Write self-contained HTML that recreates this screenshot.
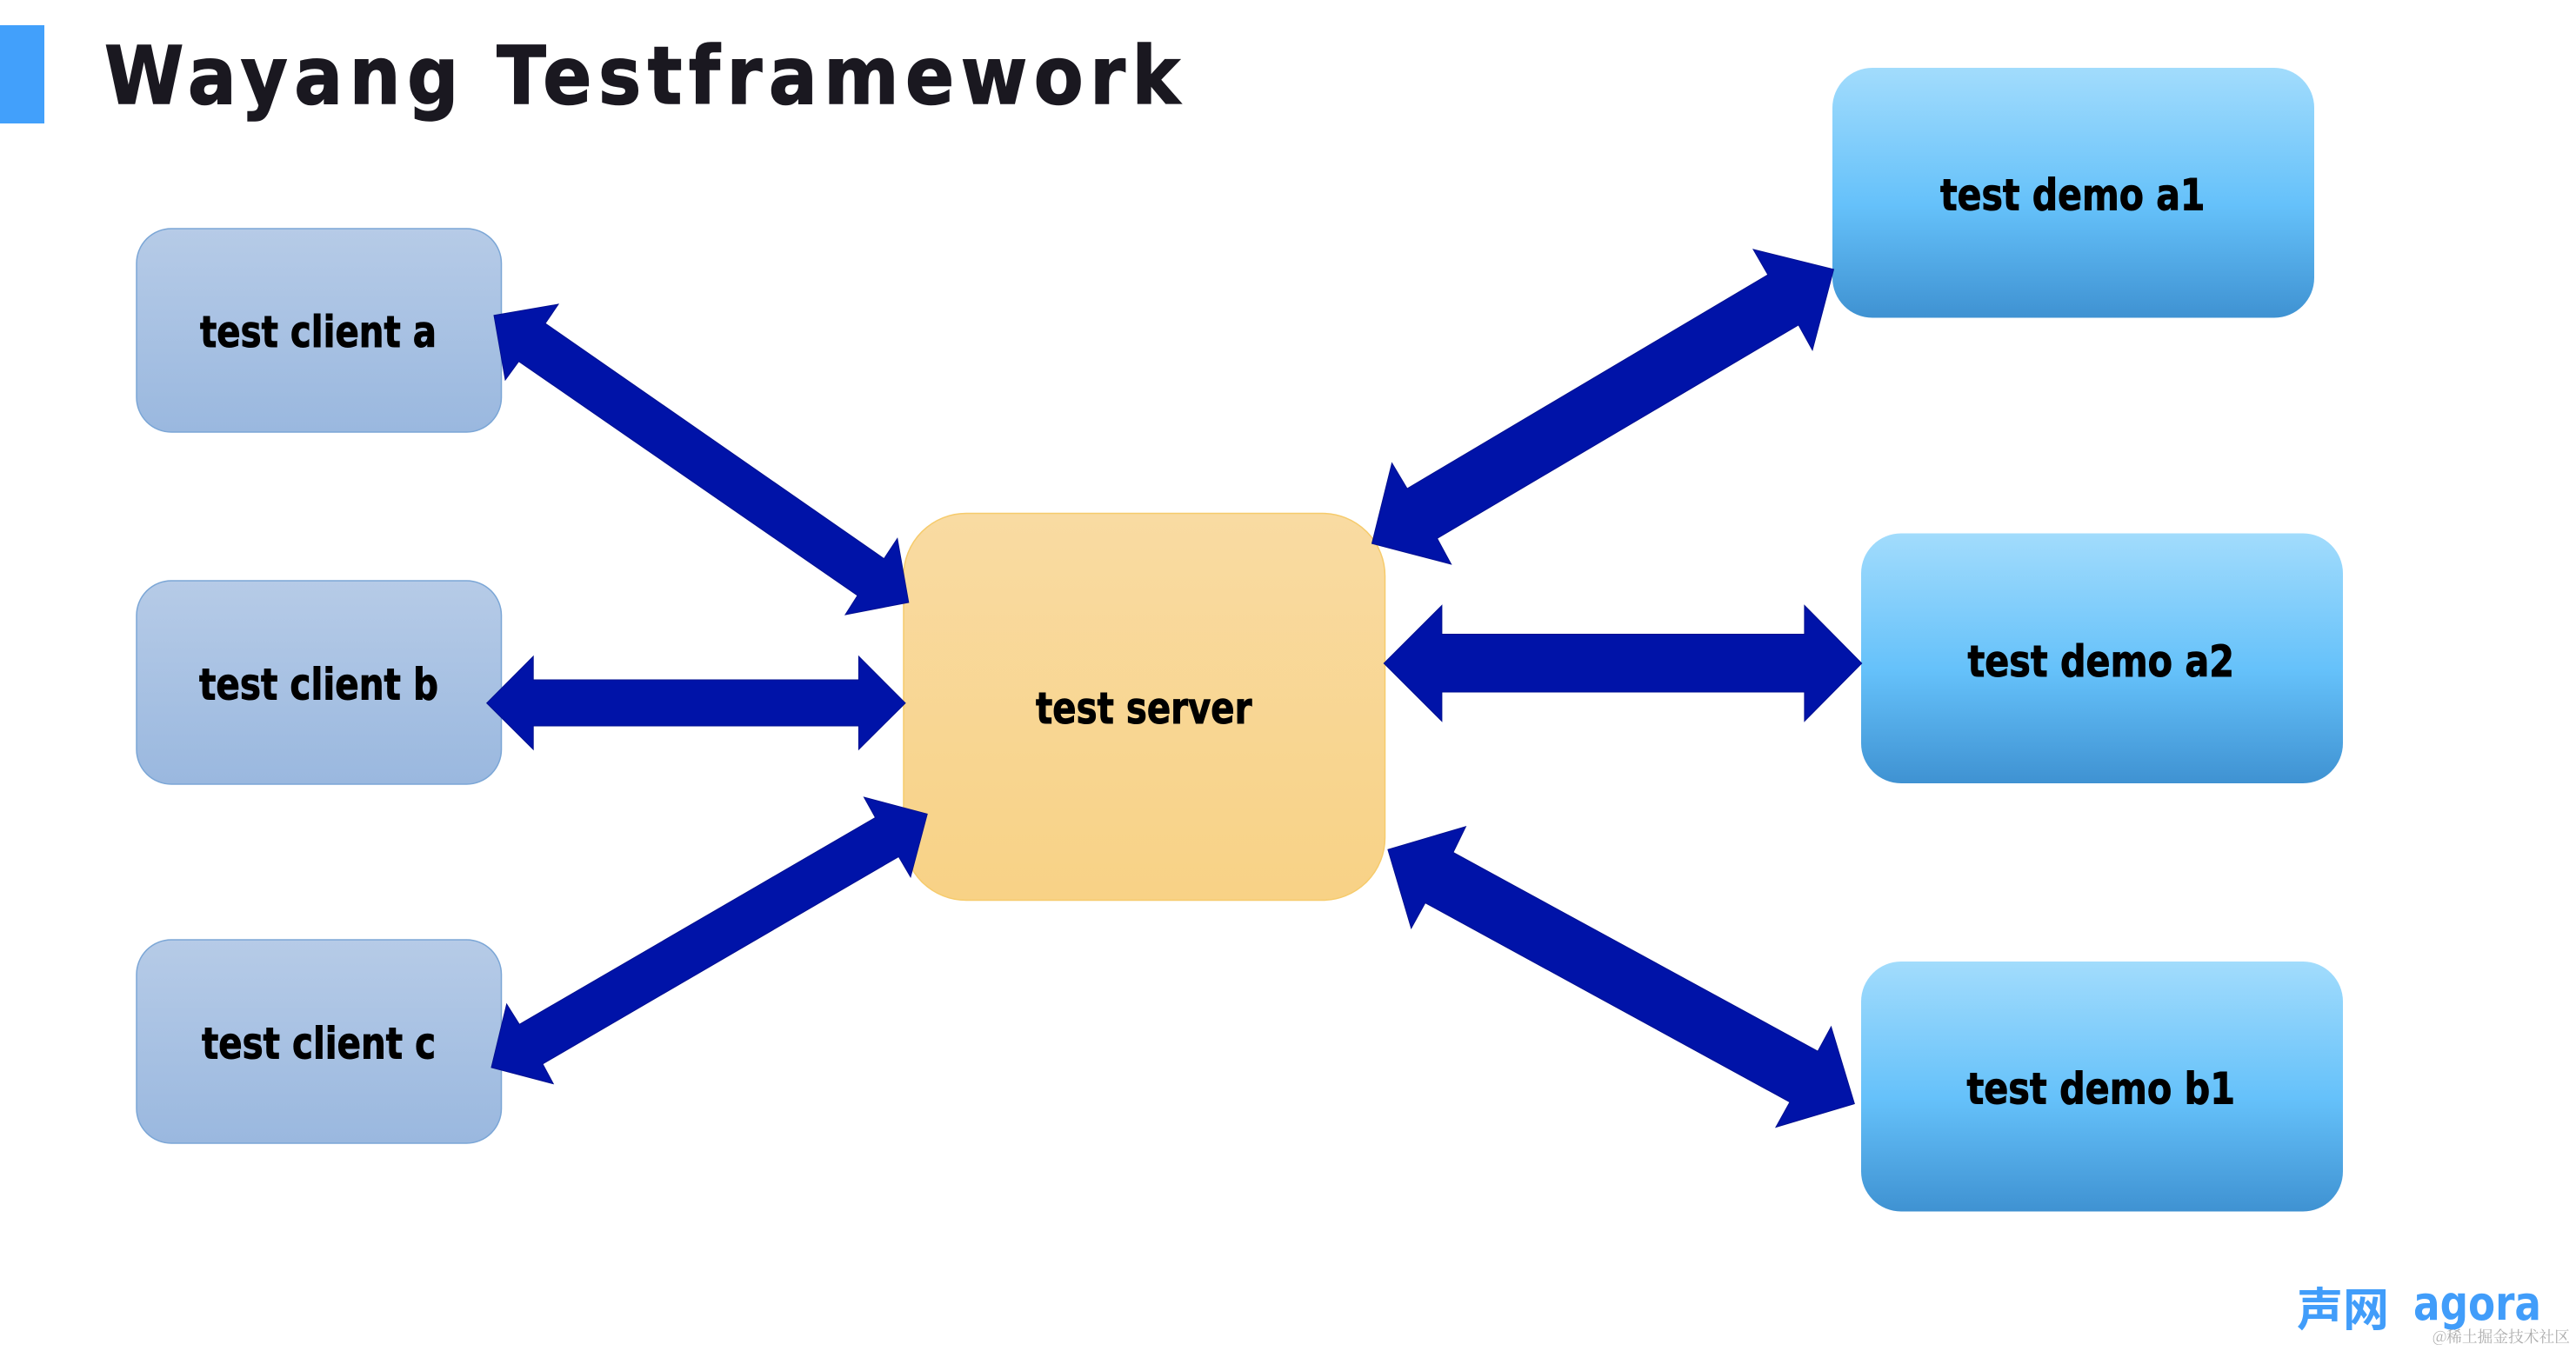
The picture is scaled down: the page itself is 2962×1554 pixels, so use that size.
<!DOCTYPE html>
<html lang="en">
<head>
<meta charset="utf-8">
<title>Wayang Testframework</title>
<style>
html,body{margin:0;padding:0;background:#fff;width:2962px;height:1554px;overflow:hidden}
svg{display:block}
text{font-family:"DejaVu Sans","Liberation Sans","Noto Sans CJK SC",sans-serif}
.l{font-size:50px;font-weight:700;fill:#000;stroke:#000;stroke-width:1px}
.a{fill:#0013a8;stroke:#000f90;stroke-width:1}
</style>
</head>
<body>
<svg width="2962" height="1554" viewBox="0 0 2962 1554" xmlns="http://www.w3.org/2000/svg">
<defs>
<linearGradient id="gc" x1="0" y1="0" x2="0" y2="1"><stop offset="0" stop-color="#b6cbe7"/><stop offset="1" stop-color="#9ab8df"/></linearGradient>
<linearGradient id="gs" x1="0" y1="0" x2="0" y2="1"><stop offset="0" stop-color="#f9dba2"/><stop offset="1" stop-color="#f8d286"/></linearGradient>
<linearGradient id="gd" x1="0" y1="0" x2="0" y2="1"><stop offset="0" stop-color="#a2dcfc"/><stop offset=".55" stop-color="#65c1fa"/><stop offset="1" stop-color="#3f92d2"/></linearGradient>
</defs>
<rect width="2962" height="1554" fill="#fff"/>

<rect x="0" y="29" width="51" height="113" fill="#42a0fb"/>
<g transform="translate(120 119) scale(.9 1)">
<text x="0" y="0" font-size="92" font-weight="700" fill="#1a1820" stroke="#1a1820" stroke-width="1.500" textLength="1374" lengthAdjust="spacing">Wayang Testframework</text>
</g>

<rect x="157" y="263" width="419.5" height="234" rx="40" fill="url(#gc)" stroke="#7ba6d6" stroke-width="1.5"/>
<rect x="157" y="668" width="419.5" height="234" rx="40" fill="url(#gc)" stroke="#7ba6d6" stroke-width="1.5"/>
<rect x="157" y="1081" width="419.5" height="234" rx="40" fill="url(#gc)" stroke="#7ba6d6" stroke-width="1.5"/>

<rect x="1039" y="590.500" width="553.500" height="445" rx="72" fill="url(#gs)" stroke="#f6cb6c" stroke-width="1.500"/>

<rect x="2107" y="78" width="554" height="287.500" rx="46" fill="url(#gd)"/>
<rect x="2140" y="613.500" width="554" height="287.500" rx="46" fill="url(#gd)"/>
<rect x="2140" y="1106" width="554" height="287.500" rx="46" fill="url(#gd)"/>

<polygon class="a" points="568,362.700 642,350 627,372 1016.500,642.600 1031.800,619.400 1044.800,693 972,707 986,685 596.500,415.700 581,437"/>
<polygon class="a" points="559.700,808.700 613.200,755 613.200,782 987.400,782 987.400,755 1041,808.700 987.400,862 987.400,835 613.200,835 613.200,862"/>
<polygon class="a" points="1066.200,936.300 993.500,917 1006.500,940.400 597.200,1178.300 582.600,1155 565,1227.900 636.200,1246.600 624,1223.800 1033.300,985.400 1047,1008.700"/>
<polygon class="a" points="2108.500,309.800 2016,286.900 2032.800,316 1618,562 1600.500,532.700 1577.500,625.200 1668.600,649 1652.500,619.300 2068,373.800 2084,402.700"/>
<polygon class="a" points="1591.300,763 1657.900,696.500 1657.900,729.500 2074.900,729.500 2074.900,696.500 2140.700,763 2074.900,829.500 2074.900,796 1657.900,796 1657.900,829.500"/>
<polygon class="a" points="1595.900,977.200 1685.400,950.800 1670.900,980.500 2090.200,1209.200 2105.500,1181 2132.300,1269.600 2042,1296.500 2058,1267.700 1638.800,1038.500 1622.700,1067.700"/>

<text class="l" x="230" y="399" textLength="272" lengthAdjust="spacingAndGlyphs">test client a</text>
<text class="l" x="229" y="804.500" textLength="275" lengthAdjust="spacingAndGlyphs">test client b</text>
<text class="l" x="232" y="1217.500" textLength="269" lengthAdjust="spacingAndGlyphs">test client c</text>
<text class="l" x="1191" y="832" textLength="248.500" lengthAdjust="spacingAndGlyphs">test server</text>
<text class="l" x="2231" y="241.500" textLength="304.500" lengthAdjust="spacingAndGlyphs">test demo a1</text>
<text class="l" x="2262.500" y="778" textLength="306.500" lengthAdjust="spacingAndGlyphs">test demo a2</text>
<text class="l" x="2261.500" y="1269.500" textLength="308.500" lengthAdjust="spacingAndGlyphs">test demo b1</text>

<text x="2641" y="1525" font-size="53" font-weight="700" fill="#419dfa" style='font-family:"Noto Sans CJK SC","WenQuanYi Zen Hei",sans-serif' textLength="106" lengthAdjust="spacingAndGlyphs">声网</text>
<text x="2775" y="1518" font-size="54" font-weight="700" fill="#419dfa" textLength="147" lengthAdjust="spacingAndGlyphs">agora</text>
<text x="2797" y="1544" font-size="18" fill="#adadad" style='font-family:"Noto Serif CJK SC","Noto Sans CJK SC",serif' textLength="158" lengthAdjust="spacingAndGlyphs">@稀土掘金技术社区</text>
</svg>
</body>
</html>
